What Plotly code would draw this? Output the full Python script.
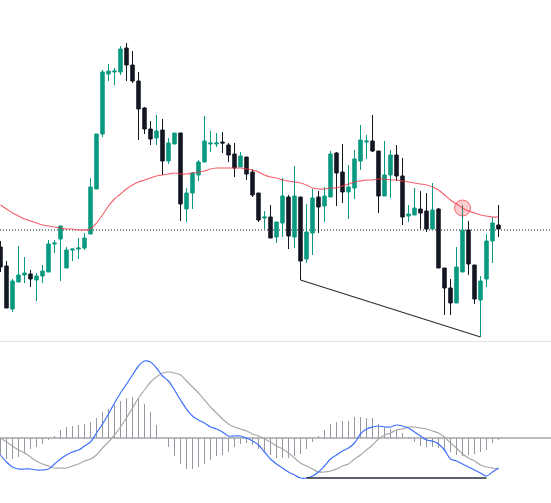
import plotly.graph_objects as go

# ---- price candles (relative price units) ----
opens  = [93,74,31,58,65,66,60,64,68,96,101,72,90,91,92,106,151,206,266,268,
          268,292,275,259,232,211,202,210,179,196,207,131,147,165,178,196,196,198,195,186,
          173,183,168,147,122,123,103,117,143,103,143,81,107,143,134,143,187,168,148,152,
          179,198,199,189,144,165,185,164,124,125,131,129,111,131,72,52,37,68,110,75,
          40,61,99,115]
highs  = [99,79,61,94,83,70,67,75,100,100,114,93,91,102,107,162,206,270,276,272,
          294,297,289,268,233,219,225,221,202,207,207,152,168,180,224,209,207,208,197,197,
          188,183,171,147,129,135,118,162,145,174,143,136,151,149,153,189,188,196,175,190,
          215,205,225,189,199,190,195,182,135,152,149,147,157,132,72,61,93,135,119,75,
          64,106,123,135]
lows   = [68,32,28,58,57,53,39,57,68,87,59,72,79,81,90,106,151,203,259,255,
          265,259,257,200,206,195,195,165,176,196,119,118,131,159,178,188,193,187,178,163,
          173,160,143,118,111,102,97,103,91,92,60,77,85,107,118,143,134,137,121,141,
          170,181,188,127,144,142,159,115,118,125,111,108,111,72,25,25,37,68,65,36,
          3,53,77,103]
closes = [73,32,59,65,67,61,64,69,96,97,114,90,91,92,102,153,206,268,269,269,
          291,275,259,231,211,201,209,179,197,207,136,147,167,178,199,197,197,197,185,172,
          184,166,145,120,123,102,118,144,104,144,79,108,142,133,144,186,167,148,153,181,
          200,199,189,144,165,185,164,123,126,132,127,111,130,72,52,37,73,110,76,41,
          59,99,117,111]

# moving average
ma = [135,131,127,124,121,119,117,115,114,113,112,111,111,110,110,111,117,125,134,141,
      146,151,155,158,160,162,164,165,166,167,166,166,167,168,169,171,172,172,172,172,
      172,171,170,168,165,163,162,160,159,158,157,155,152,151,151,152,152,154,156,158,
      159,160,160,161,161,160,160,159,158,157,156,155,153,150,145,140,136,132,129,127,
      125,124,123,123]

level_price = 110
div_price_idx = [50, 80]
div_price_val = [60, 3]
marker_idx = 77
marker_val = 132

# ---- MACD panel ----
macd = [-17,-24,-29,-31,-31,-31,-32,-32,-31,-26,-21,-17,-14,-12,-8,-4,5,14,24,35,
        45,54,63,72,77,76,70,62,57,48,38,29,22,18,15,11,9,6,2,2,
        2,0,-3,-7,-14,-21,-26,-30,-34,-37,-40,-40,-38,-34,-28,-21,-17,-13,-10,-5,
        4,9,11,12,11,11,13,12,10,6,2,-2,-3,-6,-12,-21,-23,-26,-29,-32,
        -35,-38,-34,-30]
signal = [0,-4,-8,-12,-15,-19,-23,-26,-28,-30,-30,-30,-28,-26,-23,-21,-17,-10,-4,3,
          11,20,30,40,48,56,61,65,66,65,63,57,51,45,38,31,25,19,14,11,
          9,7,4,2,-1,-4,-8,-11,-15,-20,-25,-28,-31,-34,-34,-33,-31,-28,-26,-21,
          -17,-12,-7,-1,3,5,8,9,11,11,10,9,7,5,1,-5,-10,-16,-20,-23,
          -27,-29,-30,-31]
hist = [-16.7,-20.7,-20.7,-19,-15.7,-11,-9,-6,-2.3,2.3,8.3,11,12.3,13.3,14.3,16.3,20.3,25.7,29.3,32.7,
        37.3,40.3,41.3,39.3,34.3,25.7,13.3,1,-9.3,-18.3,-26,-31,-31,-29.3,-25.7,-22.3,-18.3,-16.7,-14,-9.3,
        -6,-5,-7,-10.7,-13.3,-17,-20.3,-20,-20,-17.7,-16,-11,-4.3,2.3,8.3,14.3,15.7,16.7,16.7,20.7,
        21,20,20,14.3,11,9,7.7,5,0.5,-4.3,-8.3,-9.3,-9.3,-10,-12.3,-14.3,-16.7,-17.7,-16.7,-15.7,
        -14,-11.7,-5,-1.5]
div_macd_idx = [51, 81]
div_macd_val = [-40, -40]

idx = list(range(len(opens)))

GREEN = "#089981"
DARK = "#131722"

fig = go.Figure()

fig.add_trace(go.Candlestick(
    x=idx, open=opens, high=highs, low=lows, close=closes,
    increasing=dict(line=dict(color=GREEN, width=1), fillcolor=GREEN),
    decreasing=dict(line=dict(color=DARK, width=1), fillcolor=DARK),
    whiskerwidth=0, xaxis="x", yaxis="y", showlegend=False, hoverinfo="skip"))

fig.add_trace(go.Scatter(x=idx, y=ma, mode="lines",
                         line=dict(color="rgba(242,54,69,0.8)", width=1.1, shape="spline"),
                         xaxis="x", yaxis="y", showlegend=False, hoverinfo="skip"))

fig.add_trace(go.Scatter(x=div_price_idx, y=div_price_val, mode="lines",
                         line=dict(color="#2a2e39", width=1.2),
                         xaxis="x", yaxis="y", showlegend=False, hoverinfo="skip"))

fig.add_trace(go.Scatter(x=[marker_idx], y=[marker_val], mode="markers",
                         marker=dict(size=16, color="rgba(242,54,69,0.25)",
                                     line=dict(color="rgba(242,54,69,0.7)", width=1)),
                         xaxis="x", yaxis="y", showlegend=False, hoverinfo="skip"))

# MACD panel
fig.add_trace(go.Bar(x=idx, y=hist, width=1 / 6, marker=dict(color="#9598a1", line=dict(width=0)),
                     xaxis="x2", yaxis="y2", showlegend=False, hoverinfo="skip"))
fig.add_trace(go.Scatter(x=idx, y=signal, mode="lines",
                         line=dict(color="#a8a8a8", width=1.2, shape="spline"),
                         xaxis="x2", yaxis="y2", showlegend=False, hoverinfo="skip"))
fig.add_trace(go.Scatter(x=idx, y=macd, mode="lines",
                         line=dict(color="#3d6fff", width=1.2, shape="spline"),
                         xaxis="x2", yaxis="y2", showlegend=False, hoverinfo="skip"))
fig.add_trace(go.Scatter(x=div_macd_idx, y=div_macd_val, mode="lines",
                         line=dict(color="#2a2e39", width=1.5),
                         xaxis="x2", yaxis="y2", showlegend=False, hoverinfo="skip"))

xr = [-1 / 12, -1 / 12 + 551 / 6]
top_lo = (503 - 341) / 503
bot_hi = (503 - 342) / 503

fig.update_layout(
    width=551, height=503,
    margin=dict(l=0, r=0, t=0, b=0),
    paper_bgcolor="white", plot_bgcolor="white",
    boxgap=0.18,
    xaxis=dict(range=xr, visible=False, rangeslider=dict(visible=False), anchor="y"),
    xaxis2=dict(range=xr, visible=False, anchor="y2"),
    yaxis=dict(domain=[top_lo, 1], range=[-1, 340], visible=False),
    yaxis2=dict(domain=[0, bot_hi], range=[-65, 96], visible=False),
    bargap=0,
    shapes=[
        dict(type="line", xref="paper", yref="y", x0=0, x1=1, y0=level_price, y1=level_price,
             line=dict(color=DARK, width=1, dash="1px,2px"), layer="below"),
        dict(type="line", xref="paper", yref="paper", x0=0, x1=1,
             y0=(503 - 341.5) / 503, y1=(503 - 341.5) / 503,
             line=dict(color="#e0e3eb", width=1)),
        dict(type="line", xref="paper", yref="y2", x0=0, x1=1, y0=0, y1=0,
             line=dict(color="#787b86", width=1.2), layer="below"),
    ],
)

fig.write_html("out.html")
